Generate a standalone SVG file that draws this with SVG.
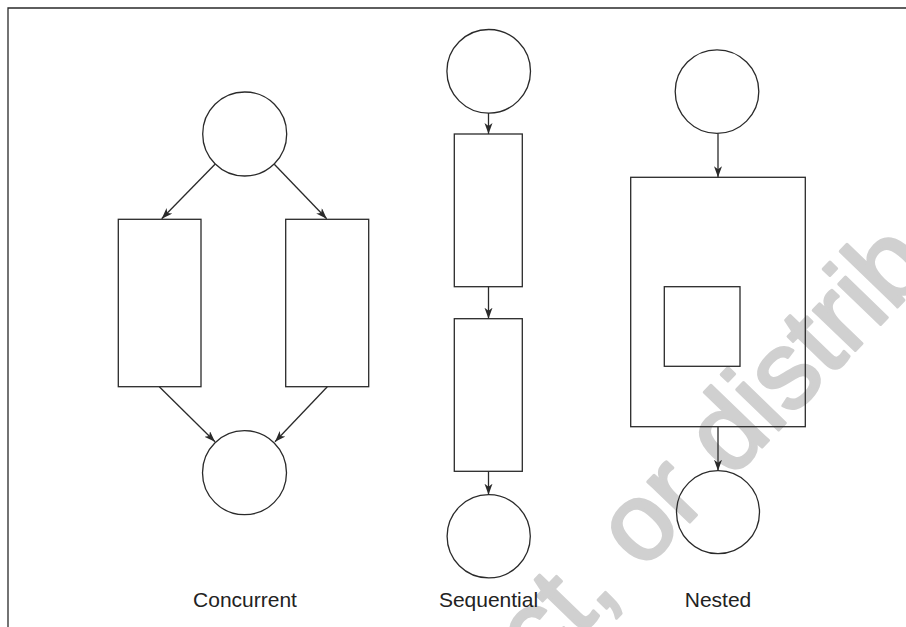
<svg xmlns="http://www.w3.org/2000/svg" width="906" height="627" viewBox="0 0 906 627">
<style>
.s{fill:none;stroke:#2a2a2a;stroke-width:1.3}
.c{fill:none;stroke:#2a2a2a;stroke-width:1.3;marker-end:url(#ah)}
.lbl{font-family:"Liberation Sans",Arial,sans-serif;font-size:21px;fill:#222;text-anchor:middle}
.wm{font-family:"Liberation Sans",Arial,sans-serif;font-size:110px;fill:#d0d0d0;stroke:#d0d0d0;stroke-width:3;stroke-linejoin:round}
</style>
<defs>
<marker id="ah" markerUnits="userSpaceOnUse" markerWidth="12" markerHeight="9" refX="11" refY="4" orient="auto">
<path d="M0,0 L11,4 L0,8 L3,4 z" fill="#2a2a2a"/>
</marker>
</defs>
<rect width="906" height="627" fill="#fff"/>
<text class="wm" transform="translate(540,677) rotate(-46)">ct, or distrib</text>
<g id="frame"><path class="s" d="M8,627 V8 H906"/></g>

<g id="conc-top"><circle class="s" cx="244.7" cy="134" r="42"/></g>
<g id="conc-left"><rect class="s" x="118.3" y="219.3" width="82.7" height="167.4"/></g>
<g id="conc-right"><rect class="s" x="285.7" y="219.3" width="83" height="167.4"/></g>
<g id="conc-bottom"><circle class="s" cx="244.5" cy="472.7" r="42"/></g>

<g id="seq-top"><circle class="s" cx="488.7" cy="71.3" r="41.8"/></g>
<g id="seq-rect1"><rect class="s" x="454.3" y="134" width="68" height="152.7"/></g>
<g id="seq-rect2"><rect class="s" x="454.3" y="318.7" width="68" height="152.6"/></g>
<g id="seq-bottom"><circle class="s" cx="488.7" cy="536.3" r="41.6"/></g>

<g id="nest-top"><circle class="s" cx="717" cy="91.6" r="41.8"/></g>
<g id="nest-outer"><rect class="s" x="630.7" y="177.3" width="174.6" height="249.4"/></g>
<g id="nest-inner"><rect class="s" x="664.3" y="286.7" width="75.7" height="79.6"/></g>
<g id="nest-bottom"><circle class="s" cx="718" cy="512.2" r="41.5"/></g>

<g id="connectors">
<line class="c" x1="215" y1="164.3" x2="161.7" y2="218.7"/>
<line class="c" x1="274.3" y1="164.3" x2="326.7" y2="218.7"/>
<line class="c" x1="159.3" y1="386.7" x2="215" y2="441.7"/>
<line class="c" x1="327.3" y1="386.7" x2="275" y2="441.7"/>
<line class="c" x1="488.5" y1="113" x2="488.5" y2="134"/>
<line class="c" x1="488.5" y1="286.7" x2="488.5" y2="318.7"/>
<line class="c" x1="488.5" y1="471.3" x2="488.5" y2="494.7"/>
<line class="c" x1="718" y1="133.4" x2="718" y2="177.3"/>
<line class="c" x1="718" y1="426.7" x2="718" y2="470.7"/>
</g>

<g id="labels">
<text class="lbl" x="245" y="606.5">Concurrent</text>
<text class="lbl" x="488.5" y="606.5">Sequential</text>
<text class="lbl" x="718" y="606.5">Nested</text>
</g>
</svg>
